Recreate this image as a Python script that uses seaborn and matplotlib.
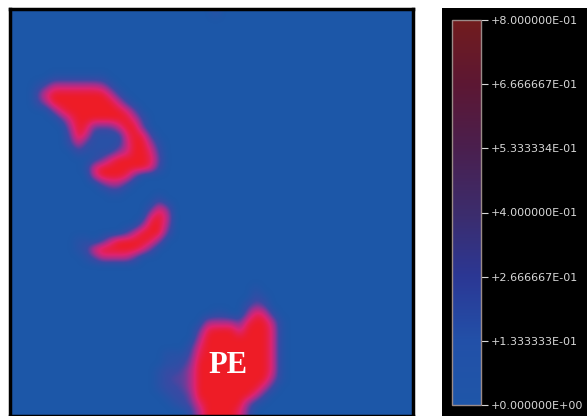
import matplotlib
matplotlib.use("Agg")
import matplotlib.pyplot as plt
import numpy as np
import seaborn as sns
from matplotlib.cm import ScalarMappable
from matplotlib.colors import LinearSegmentedColormap, Normalize

# 50 x 50 field; each digit is a level 0..9 (9 = saturated)
grid_size = 50
field_segments = [
    # (row, first column, levels)
    (0, 25, "1"),
    (8, 5, "1111111"),
    (9, 3, "1366666652"),
    (10, 3, "37999999962"),
    (11, 3, "259999999962"),
    (12, 5, "48999999973"),
    (13, 6, "37999999962"),
    (14, 7, "5983336993"),
    (15, 7, "39611117982"),
    (16, 7, "262111169951"),
    (17, 8, "21111469972"),
    (18, 10, "137999983"),
    (19, 9, "1799999972"),
    (20, 10, "699983"),
    (21, 11, "3552"),
    (22, 12, "11"),
    (23, 18, "2"),
    (24, 17, "274"),
    (25, 17, "796"),
    (26, 16, "4995"),
    (27, 14, "269993"),
    (28, 8, "11"),
    (28, 11, "26999984"),
    (29, 8, "1279999973"),
    (30, 9, "1366663"),
    (34, 30, "1"),
    (35, 30, "21"),
    (36, 29, "243"),
    (37, 25, "11"),
    (37, 29, "4872"),
    (38, 24, "5555389961"),
    (39, 23, "38999699971"),
    (40, 23, "59999999971"),
    (41, 22, "279999999971"),
    (42, 19, "111389999999971"),
    (43, 19, "112499999999971"),
    (44, 18, "1223599999999971"),
    (45, 18, "1233599999999951"),
    (46, 18, "122359999999962"),
    (47, 19, "1224999999962"),
    (48, 20, "12379999941"),
    (49, 22, "25999973"),
]

v_max = 0.8
cbar_ticks = [0.0, 0.1333333, 0.2666667, 0.4, 0.5333334, 0.6666667, 0.8]
cbar_labels = ["+0.000000E+00", "+1.333333E-01", "+2.666667E-01", "+4.000000E-01",
               "+5.333334E-01", "+6.666667E-01", "+8.000000E-01"]

field = np.zeros((grid_size, grid_size))
for row, col, levels in field_segments:
    for k, ch in enumerate(levels):
        field[row, col + k] = int(ch) / 9 * v_max

field_cmap = LinearSegmentedColormap.from_list(
    "field", [(0.0, "#1c57a8"), (0.25, "#3a4aa4"), (0.5, "#9a3290"),
              (0.75, "#de2370"), (1.0, "#ee1c26")])
bar_cmap = LinearSegmentedColormap.from_list(
    "bar", [(0.0, "#1f56a8"), (0.167, "#2250a8"), (0.333, "#2b3794"),
            (0.5, "#3c2c6c"), (0.667, "#4a1f4e"), (0.833, "#5c1733"),
            (1.0, "#711c1e")])

sns.set_style("white")
W, H = 587, 416
fig = plt.figure(figsize=(W / 100, H / 100), dpi=100)
fig.patch.set_facecolor("white")

ax = fig.add_axes([10 / W, 0, 403 / W, 407 / H])
sns.heatmap(field, ax=ax, cmap=field_cmap, vmin=0, vmax=v_max, cbar=False,
            xticklabels=False, yticklabels=False)
# smooth the same cells on top of the mesh
ax.imshow(field, cmap=field_cmap, vmin=0, vmax=v_max, interpolation="bicubic",
          extent=(0, grid_size, grid_size, 0), aspect="auto", zorder=2)
ax.set_xlim(0, grid_size)
ax.set_ylim(grid_size, 0)
for sp in ax.spines.values():
    sp.set_visible(True)
    sp.set_color("black")
    sp.set_linewidth(2.5)
    sp.set_zorder(3)
ax.text(27.0, 43.8, "PE", ha="center", va="center", color="white",
        fontsize=22, fontweight="bold", family="Liberation Serif", zorder=4)

# black panel behind the colour bar
panel = fig.add_axes([442 / W, 0, (W - 442) / W, 408 / H])
panel.set_facecolor("black")
panel.set_xticks([])
panel.set_yticks([])
for sp in panel.spines.values():
    sp.set_visible(False)

cax = fig.add_axes([452 / W, 11 / H, 29 / W, 385 / H])
sm = ScalarMappable(norm=Normalize(0, v_max), cmap=bar_cmap)
cb = fig.colorbar(sm, cax=cax, ticks=cbar_ticks)
cb.ax.set_yticklabels(cbar_labels)
cb.outline.set_edgecolor("#9a8a88")
cb.outline.set_linewidth(1.0)
cax.tick_params(axis="y", colors="#d8d8d8", labelsize=8, length=5, width=0.8, pad=2)

fig.savefig("out.png", dpi=100)
